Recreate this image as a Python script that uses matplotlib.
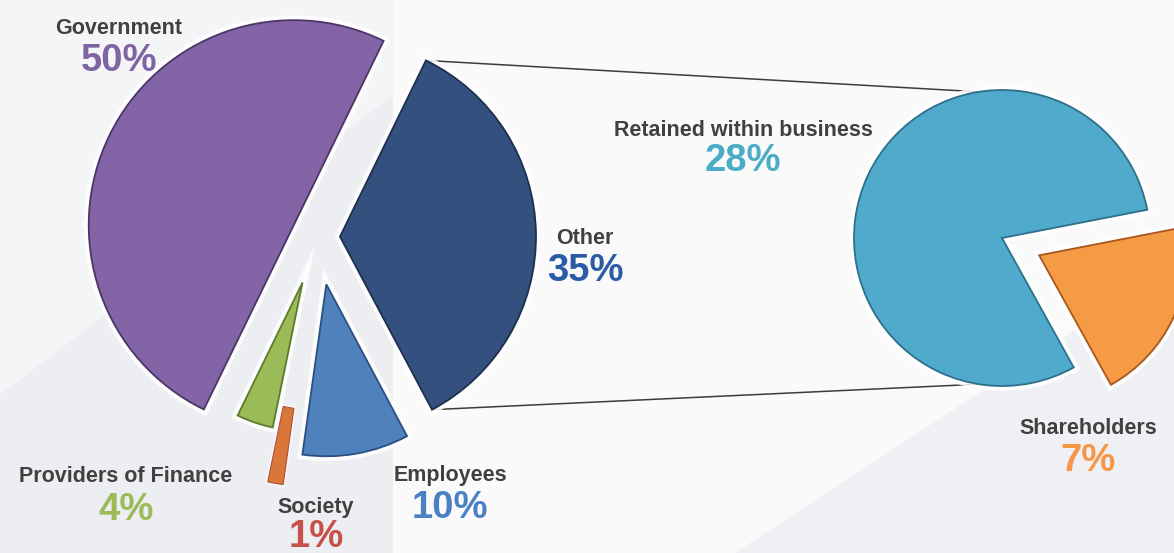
import matplotlib
matplotlib.use("Agg")
import numpy as np
import matplotlib.pyplot as plt
import matplotlib.patheffects as pe
from matplotlib.patches import Polygon

# where the value added goes (left pie)
LEFT_LABELS = ["Government", "Providers of Finance", "Society", "Employees", "Other"]
LEFT_VALUES = [50, 4, 1, 10, 35]
# breakdown of "Other" (right pie)
RIGHT_LABELS = ["Retained within business", "Shareholders"]
RIGHT_VALUES = [28, 7]

W, H = 1174, 553

plt.rcParams['font.family'] = ['Liberation Sans', 'DejaVu Sans']

def py(y):
    # pixel row -> data y
    return H - y

fig = plt.figure(figsize=(W / 100, H / 100), dpi=100)
fig.patch.set_facecolor('#FAFAFB')
ax = fig.add_axes([0, 0, 1, 1])

# background panels
ax.add_patch(Polygon([(0, 0), (393, 0), (393, H), (0, H)], closed=True,
                     facecolor='#F4F5F7', edgecolor='none', zorder=0))
ax.add_patch(Polygon([(0, 0), (0, py(395)), (393, py(95)), (393, 0)], closed=True,
                     facecolor='#EDEEF1', edgecolor='none', zorder=0))
ax.add_patch(Polygon([(735, 0), (W, py(265)), (W, 0)], closed=True,
                     facecolor='#EFF0F3', edgecolor='none', zorder=0))

glow = [pe.withStroke(linewidth=7, foreground='white', alpha=0.85)]

# left pie
left_colors = ['#8364A6', '#9BBB59', '#D9773A', '#4F81BD', '#34507F']
left_edges = ['#4A3566', '#5C7A2A', '#B0503A', '#2C4F80', '#1E2F4E']
left_explode = [27, 48, 0, 48, 22]
left_r = [205, 148, 250, 172, 196]
left_c = (318, py(237))

wl, _ = ax.pie(LEFT_VALUES, startangle=64, counterclock=True, center=left_c,
               radius=200, explode=left_explode, colors=left_colors)
for w, r, ec in zip(wl, left_r, left_edges):
    w.set_radius(r)
    w.set_edgecolor(ec)
    w.set_linewidth(1.3)
    w.set_path_effects(glow)
    w.set_zorder(2)
# society drawn as a thin sliver below the gap
wl[2].set_center(left_c)
wl[2].set_width(77)
wl[2].set_linewidth(0.8)
wl[2].set_path_effects([pe.withStroke(linewidth=3, foreground='white', alpha=0.7)])

# right pie
right_colors = ['#4FAACB', '#F59A45']
right_edges = ['#2E6F8A', '#A8571C']
right_c = (1002, py(238))
wr, _ = ax.pie(RIGHT_VALUES, startangle=11, counterclock=True, center=right_c,
               radius=148, explode=[0, 41], colors=right_colors)
for w, ec in zip(wr, right_edges):
    w.set_edgecolor(ec)
    w.set_linewidth(1.3)
    w.set_path_effects(glow)
    w.set_zorder(2)

# connector lines from "Other" to the right pie
other = wl[4]
ocx, ocy = other.center
rcx, rcy = wr[0].center
for ta, tb in [(other.theta2, 99), (other.theta1, 261)]:
    x0 = ocx + other.r * np.cos(np.radians(ta))
    y0 = ocy + other.r * np.sin(np.radians(ta))
    x1 = rcx + wr[0].r * np.cos(np.radians(tb))
    y1 = rcy + wr[0].r * np.sin(np.radians(tb))
    ax.plot([x0, x1], [y0, y1], color='#3C3C3C', lw=1.1, zorder=1)

# labels
lab_color = '#404040'
pct_colors = ['#8064A2', '#9BBB59', '#C8504A', '#4A80C4', '#2A5CA6',
              '#4BACC6', '#F79646']
label_pos = [(119, 28), (126, 477), (316, 507), (450, 475), (585, 238),
             (743, 130), (1088, 428)]
pct_gap = [33, 33, 30, 33, 33, 31, 33]
names = LEFT_LABELS + RIGHT_LABELS
vals = LEFT_VALUES + RIGHT_VALUES
for name, v, (x, y), g, c in zip(names, vals, label_pos, pct_gap, pct_colors):
    ax.text(x, py(y), name, ha='center', va='center', fontsize=15.5,
            fontweight='bold', color=lab_color, zorder=3)
    ax.text(x, py(y + g), f"{v}%", ha='center', va='center', fontsize=27.5,
            fontweight='bold', color=c, zorder=3)

ax.set_xlim(0, W)
ax.set_ylim(0, H)
ax.set_aspect('equal')
ax.axis('off')

fig.savefig('out.png', dpi=100, facecolor=fig.get_facecolor())
